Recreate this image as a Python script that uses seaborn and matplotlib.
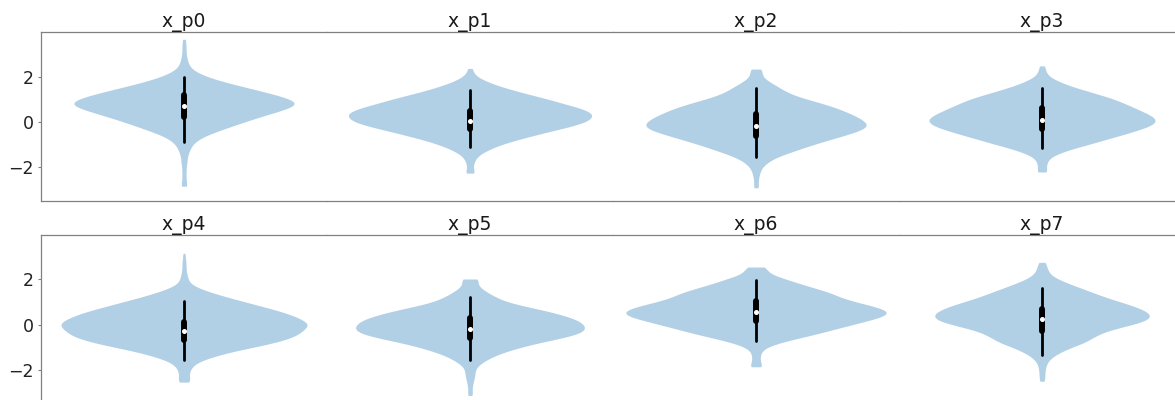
import numpy as np
import matplotlib
matplotlib.use("Agg")
import matplotlib.pyplot as plt
import seaborn as sns

# -------------------------------
# Data
# -------------------------------
titles = ["x_p0", "x_p1", "x_p2", "x_p3", "x_p4", "x_p5", "x_p6", "x_p7"]

# value grid of the frequency tables below
levels = [-3.0, -2.8, -2.6, -2.4, -2.2, -2.0, -1.8, -1.6, -1.4, -1.2, -1.0, -0.8,
          -0.6, -0.4, -0.2, 0.0, 0.2, 0.4, 0.6, 0.8, 1.0, 1.2, 1.4, 1.6, 1.8,
          2.0, 2.2, 2.4, 2.6, 2.8, 3.0, 3.2, 3.4, 3.6]

# how many draws sit at each level
counts_p0 = [0, 2, 2, 2, 2, 2, 3, 3, 4, 6, 8, 13, 21, 33, 45, 58, 71, 86, 100, 110, 103, 88, 71, 53, 36, 22, 12, 6, 4, 3, 2, 2, 2, 1]
counts_p1 = [0, 0, 0, 0, 3, 3, 4, 6, 11, 20, 31, 46, 63, 81, 100, 115, 121, 121, 110, 93, 78, 60, 43, 28, 16, 7, 3, 0, 0, 0, 0, 0, 0, 0]
counts_p2 = [0, 2, 2, 3, 4, 6, 11, 18, 30, 43, 56, 71, 86, 101, 110, 107, 100, 90, 80, 66, 50, 35, 27, 20, 12, 6, 5, 0, 0, 0, 0, 0, 0, 0]
counts_p3 = [0, 0, 0, 0, 3, 4, 5, 7, 16, 29, 46, 61, 77, 92, 106, 113, 111, 102, 92, 82, 72, 57, 42, 27, 16, 7, 4, 2, 0, 0, 0, 0, 0, 0]
counts_p4 = [0, 0, 0, 5, 5, 6, 9, 16, 30, 46, 68, 88, 104, 112, 117, 122, 116, 106, 93, 76, 60, 43, 28, 15, 6, 4, 3, 2, 2, 2, 1, 0, 0, 0]
counts_p5 = [2, 2, 3, 4, 5, 5, 8, 15, 23, 35, 50, 68, 90, 108, 114, 112, 106, 93, 76, 55, 36, 26, 18, 11, 7, 5, 0, 0, 0, 0, 0, 0, 0, 0]
counts_p6 = [0, 0, 0, 0, 0, 0, 4, 4, 4, 5, 10, 23, 41, 60, 76, 93, 110, 126, 128, 115, 96, 81, 73, 58, 43, 30, 16, 9, 0, 0, 0, 0, 0, 0]
counts_p7 = [0, 0, 0, 2, 3, 3, 4, 6, 11, 19, 29, 42, 49, 56, 69, 89, 104, 107, 102, 91, 77, 62, 51, 39, 27, 16, 8, 6, 4, 0, 0, 0, 0, 0]
all_counts = [counts_p0, counts_p1, counts_p2, counts_p3,
              counts_p4, counts_p5, counts_p6, counts_p7]

# extreme draws (min / max) and how many of them
sample_min = [-2.85, -2.27, -2.92, -2.22, -2.55, -3.14, -1.87, -2.51]
sample_min_n = [2, 3, 2, 3, 5, 2, 4, 2]
sample_max = [3.66, 2.37, 2.34, 2.48, 3.16, 2.02, 2.55, 2.76]
sample_max_n = [1, 2, 5, 2, 1, 5, 8, 3]

# summary stats drawn inside each violin
hdi_low = [-0.90, -1.12, -1.57, -1.17, -1.58, -1.58, -0.75, -1.34]
hdi_high = [1.98, 1.42, 1.50, 1.50, 1.03, 1.22, 1.96, 1.64]
quart_low = [0.23, -0.31, -0.64, -0.31, -0.70, -0.58, 0.17, -0.27]
quart_high = [1.18, 0.46, 0.35, 0.61, 0.12, 0.30, 1.05, 0.68]
medians = [0.70, 0.06, -0.20, 0.10, -0.29, -0.18, 0.56, 0.25]

# -------------------------------
# Style / layout
# -------------------------------
violin_widths = [0.77, 0.85, 0.77, 0.79, 0.86, 0.80, 0.91, 0.75]
FILL = "#b1cfe5"
SPINE = "0.5"

sns.set_style("white")
plt.rcParams["font.family"] = ["DejaVu Sans"]

W, H = 1175, 400
fig = plt.figure(figsize=(W / 100, H / 100), dpi=100)

col_left = [41, 327, 613, 899]
row_top = [32.3, 235]
ax_w, ax_h = 286, 169

for i, name in enumerate(titles):
    r, c = divmod(i, 4)
    ax = fig.add_axes([col_left[c] / W, (H - row_top[r] - ax_h) / H, ax_w / W, ax_h / H])

    vals = np.concatenate([
        np.repeat(levels, all_counts[i]),
        [sample_min[i]] * sample_min_n[i],
        [sample_max[i]] * sample_max_n[i],
    ])

    sns.violinplot(y=vals, ax=ax, color=FILL, saturation=1, inner=None, cut=0,
                   density_norm="width", width=violin_widths[i], linewidth=0,
                   bw_method=0.18, gridsize=200)

    # hdi line, quartile box, median dot
    ax.plot([0, 0], [hdi_low[i], hdi_high[i]], color="k", lw=2,
            solid_capstyle="round", zorder=3)
    ax.plot([0, 0], [quart_low[i], quart_high[i]], color="k", lw=4.3,
            solid_capstyle="round", zorder=3)
    ax.plot(0, medians[i], "o", color="white", ms=2.6, zorder=4)

    ax.set_xlim(-0.5, 0.5)
    ax.set_ylim(-3.52, 3.97)
    ax.set_xticks([])
    ax.set_xlabel("")
    ax.set_ylabel("")
    ax.set_title(name, fontsize=13.5, pad=3.5, color="#1a1a1a")

    for side in ["top", "bottom", "left", "right"]:
        ax.spines[side].set_color(SPINE)
        ax.spines[side].set_linewidth(0.9)
    ax.spines["right"].set_visible(False)

    if c == 0:
        ax.set_yticks([-2, 0, 2])
        ax.tick_params(axis="y", left=True, length=2.5, width=0.8, color=SPINE,
                       pad=2.5, labelsize=12.5, labelcolor="#222222")
    else:
        ax.spines["left"].set_visible(False)
        ax.set_yticks([])

fig.savefig("out.png", dpi=100)
